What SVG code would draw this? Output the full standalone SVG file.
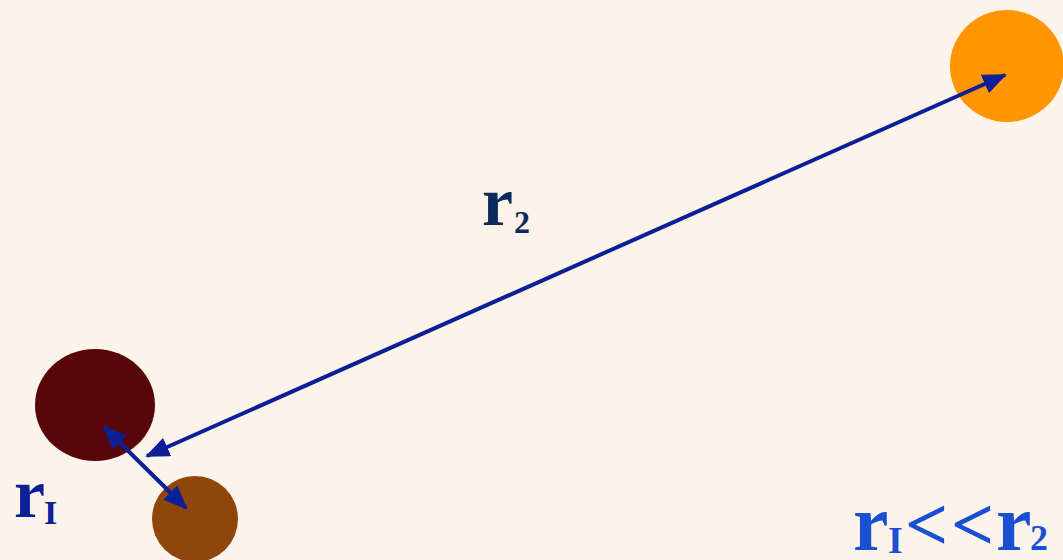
<svg xmlns="http://www.w3.org/2000/svg" width="1063" height="560" viewBox="0 0 1063 560">
<style>
.lbl{font-family:"Liberation Serif",serif;font-weight:bold;}
.conn{stroke:#0b1f96;stroke-width:4;fill:none;}
</style>
<defs>
<marker id="ah" viewBox="0 0 12 10" refX="11" refY="5" markerWidth="6" markerHeight="5" markerUnits="strokeWidth" orient="auto-start-reverse">
<path d="M0,0 L12,5 L0,10 z" fill="#0b1f96"/>
</marker>
</defs>
<rect width="1063" height="560" fill="#fcf4ea"/>
<g id="star-orange"><ellipse cx="1007" cy="66" rx="57" ry="56" fill="#ff9500"/></g>
<g id="star-darkred"><ellipse cx="95" cy="405" rx="60" ry="56" fill="#580607"/></g>
<g id="star-brown"><ellipse cx="195" cy="519" rx="43" ry="43" fill="#8f460b"/></g>
<g id="connectors">
<line class="conn" x1="147" y1="456" x2="1005" y2="75" marker-start="url(#ah)" marker-end="url(#ah)"/>
<line class="conn" x1="104" y1="427" x2="186" y2="508" marker-start="url(#ah)" marker-end="url(#ah)"/>
</g>
<g id="label-r2"><text class="lbl" x="482" y="225" font-size="70" fill="#0d2a5c">r<tspan x="514" y="233" font-size="32">2</tspan></text></g>
<g id="label-r1"><text class="lbl" x="14" y="517" font-size="70" fill="#0b1f96">r<tspan x="44" y="524" font-size="34">I</tspan></text></g>
<g id="label-cmp"><text class="lbl" y="550" font-size="80" fill="#1a4fd2"><tspan x="853">r</tspan><tspan x="888" y="553" font-size="38">I</tspan><tspan x="905" y="550" font-size="76">&lt;</tspan><tspan x="951" y="550" font-size="76">&lt;</tspan><tspan x="996" y="550">r</tspan><tspan x="1030" y="550" font-size="36">2</tspan></text></g>
</svg>
